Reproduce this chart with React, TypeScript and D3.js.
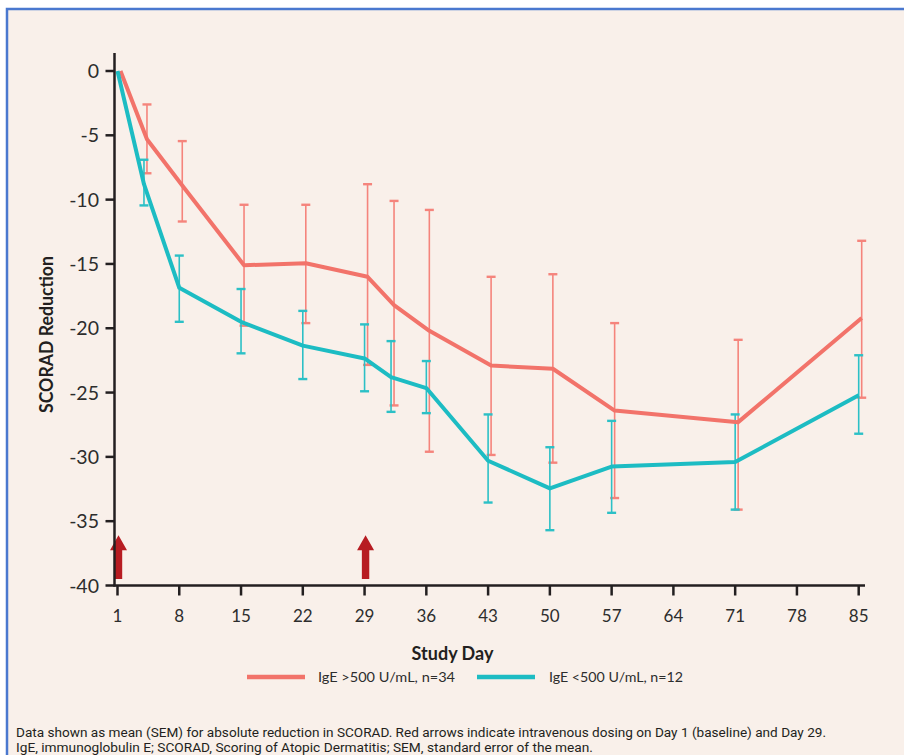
import React from "react";
import * as d3 from "d3";

const days = [1, 4, 8, 15, 22, 29, 32, 36, 43, 50, 57, 71, 85];
const highMean = [0, -5.3, -8.9, -15.1, -14.95, -16.0, -18.2, -20.2, -22.9, -23.15, -26.4, -27.3, -19.2];
const highUpper = [0, -2.6, -5.45, -10.4, -10.4, -8.8, -10.1, -10.8, -16.0, -15.8, -19.6, -20.9, -13.2];
const highLower = [0, -7.95, -11.7, -19.8, -19.6, -22.85, -26.0, -29.6, -29.85, -30.45, -33.2, -34.1, -25.4];
const lowMean = [0, -8.8, -16.85, -19.5, -21.35, -22.35, -23.8, -24.65, -30.3, -32.45, -30.75, -30.4, -25.2];
const lowUpper = [0, -6.9, -14.35, -16.95, -18.65, -19.7, -21.0, -22.55, -26.7, -29.25, -27.2, -26.7, -22.1];
const lowLower = [0, -10.45, -19.5, -21.95, -23.95, -24.9, -26.5, -26.6, -33.55, -35.7, -34.35, -34.1, -28.2];
const xTicks = [1, 8, 15, 22, 29, 36, 43, 50, 57, 64, 71, 78, 85];
const yTicks = [0, -5, -10, -15, -20, -25, -30, -35, -40];
const dosingDays = [1, 29];
const arrowRange = [-39.5, -36.1];
const seriesLabels = ["IgE >500 U/mL, n=34", "IgE <500 U/mL, n=12"];
const footnotes = [
  "Data shown as mean (SEM) for absolute reduction in SCORAD. Red arrows indicate intravenous dosing on Day 1 (baseline) and Day 29.",
  "IgE, immunoglobulin E; SCORAD, Scoring of Atopic Dermatitis; SEM, standard error of the mean.",
];

const RED = "#f2736a";
const RED_ERR = "#f5847c";
const CYAN = "#1dbcc3";
const CYAN_ERR = "#2cc0c6";
const ARROW = "#b71c22";
const BG = "#f9f0ea";
const FONT = "Lato, 'Open Sans', sans-serif";

export default function App() {
  const x = d3.scaleLinear().domain([1, 85]).range([117.5, 858.7]);
  const y = d3.scaleLinear().domain([0, -40]).range([71, 585.5]);
  const axisX = 114.5;
  const axisY = y(-40);

  const series = [
    { mean: highMean, up: highUpper, lo: highLower, color: RED, err: RED_ERR, dx: 3 },
    { mean: lowMean, up: lowUpper, lo: lowLower, color: CYAN, err: CYAN_ERR, dx: 0 },
  ];

  const line = (vals: number[], dx: number) =>
    d3
      .line<number>()
      .x((_, i) => x(days[i]) + dx)
      .y((v) => y(v))(vals) as string;

  return (
    <svg
      width={904}
      height={755}
      style={{ position: "absolute", left: 0, top: 0, display: "block" }}
    >
      <rect x={0} y={0} width={904} height={755} fill="#ffffff" />
      <rect x={7} y={9} width={920} height={780} fill={BG} stroke="#4a78cf" strokeWidth={2.5} />

      {/* error bars */}
      {series.map((s, si) => (
        <g key={"e" + si}>
          {days.map((d, i) =>
            i === 0 ? null : (
              <g key={i} stroke={s.err}>
                <line x1={x(d) + s.dx} x2={x(d) + s.dx} y1={y(s.up[i])} y2={y(s.lo[i])} strokeWidth={1.6} />
                <line x1={x(d) + s.dx - 4.5} x2={x(d) + s.dx + 4.5} y1={y(s.up[i])} y2={y(s.up[i])} strokeWidth={2.4} />
                <line x1={x(d) + s.dx - 4.5} x2={x(d) + s.dx + 4.5} y1={y(s.lo[i])} y2={y(s.lo[i])} strokeWidth={2.4} />
              </g>
            )
          )}
        </g>
      ))}

      {/* lines */}
      {series.map((s, si) => (
        <path
          key={"l" + si}
          d={line(s.mean, s.dx)}
          fill="none"
          stroke={s.color}
          strokeWidth={4}
          strokeLinejoin="round"
        />
      ))}

      {/* dosing arrows */}
      {dosingDays.map((d) => {
        const cx = x(d) + 1;
        const yb = y(arrowRange[0]);
        const yt = y(arrowRange[1]);
        const headH = 15;
        const p = [
          [cx - 3.7, yb],
          [cx - 3.7, yt + headH],
          [cx - 8.5, yt + headH],
          [cx, yt],
          [cx + 8.5, yt + headH],
          [cx + 3.7, yt + headH],
          [cx + 3.7, yb],
        ];
        return <polygon key={d} points={p.map((q) => q.join(",")).join(" ")} fill={ARROW} />;
      })}

      {/* axes */}
      <line x1={axisX} x2={axisX} y1={53} y2={axisY + 1} stroke="#231f20" strokeWidth={2.5} />
      <line x1={axisX - 1} x2={865} y1={axisY} y2={axisY} stroke="#231f20" strokeWidth={2.5} />
      {yTicks.map((t) => (
        <g key={"y" + t}>
          <line x1={axisX - 9} x2={axisX} y1={y(t)} y2={y(t)} stroke="#231f20" strokeWidth={2.5} />
          <text
            x={99}
            y={y(t)}
            dy="0.36em"
            textAnchor="end"
            fontFamily={FONT}
            fontSize={19.5}
            fill="#2d2d2d"
          >
            {t}
          </text>
        </g>
      ))}
      {xTicks.map((t) => (
        <g key={"x" + t}>
          <line x1={x(t)} x2={x(t)} y1={axisY} y2={axisY + 10} stroke="#231f20" strokeWidth={2.5} />
          <text
            x={x(t)}
            y={622}
            textAnchor="middle"
            fontFamily={FONT}
            fontSize={17}
            fill="#2d2d2d"
          >
            {t}
          </text>
        </g>
      ))}

      <text
        transform="translate(53,334.5) rotate(-90)"
        textAnchor="middle"
        fontFamily={FONT}
        fontWeight="bold"
        fontSize={18.5}
        fill="#231f20"
        textLength={157}
        lengthAdjust="spacingAndGlyphs"
      >
        SCORAD Reduction
      </text>
      <text x={452.5} y={660} textAnchor="middle" fontFamily={FONT} fontWeight="bold" fontSize={18} fill="#231f20">
        Study Day
      </text>

      {/* legend */}
      <line x1={247} x2={305} y1={677} y2={677} stroke={RED} strokeWidth={4.5} />
      <text
        x={318}
        y={681.5}
        fontFamily={FONT}
        fontSize={13.5}
        fill="#2d2d2d"
        textLength={137}
        lengthAdjust="spacingAndGlyphs"
      >
        {seriesLabels[0]}
      </text>
      <line x1={477} x2={535} y1={677} y2={677} stroke={CYAN} strokeWidth={4.5} />
      <text
        x={549}
        y={681.5}
        fontFamily={FONT}
        fontSize={13.5}
        fill="#2d2d2d"
        textLength={134}
        lengthAdjust="spacingAndGlyphs"
      >
        {seriesLabels[1]}
      </text>

      {/* footnotes */}
      <text
        x={16}
        y={737}
        fontFamily="'Liberation Sans Narrow', 'Roboto', sans-serif"
        fontSize={12.5}
        fill="#231f20"
        textLength={810}
        lengthAdjust="spacingAndGlyphs"
      >
        {footnotes[0]}
      </text>
      <text
        x={16}
        y={752}
        fontFamily="'Liberation Sans Narrow', 'Roboto', sans-serif"
        fontSize={12.5}
        fill="#231f20"
        textLength={577}
        lengthAdjust="spacingAndGlyphs"
      >
        {footnotes[1]}
      </text>
    </svg>
  );
}
